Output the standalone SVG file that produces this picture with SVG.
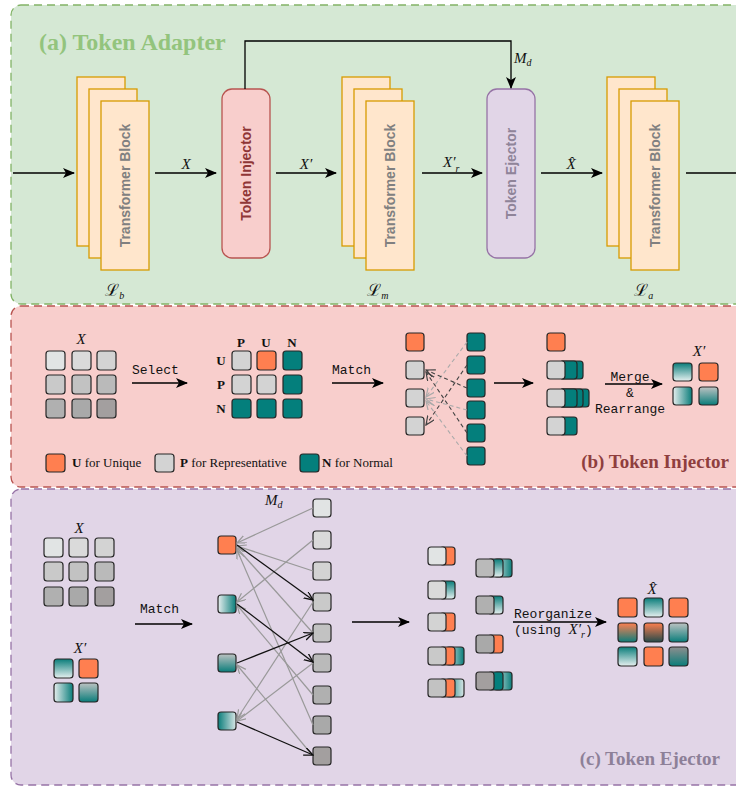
<svg xmlns="http://www.w3.org/2000/svg" width="736" height="787" viewBox="0 0 736 787">
<defs>
<style>
.math{font-family:"Liberation Serif","DejaVu Serif",serif;font-style:italic;font-size:15px;fill:#111}
.sub{font-family:"Liberation Serif","DejaVu Serif",serif;font-style:italic;font-size:10px;fill:#111}
.scr{font-family:"DejaVu Serif","Noto Sans",serif;font-size:17px;fill:#111}
.mono{font-family:"Liberation Mono","DejaVu Sans Mono",monospace;font-size:13px;fill:#111}
.leg{font-family:"Liberation Serif",serif;font-size:13px;fill:#111}
.hdr{font-family:"Liberation Serif",serif;font-size:13px;font-weight:bold;fill:#111}
.tb{fill:#ffe6cc;stroke:#d79b00;stroke-width:1.3}
.tbt{font-family:"Liberation Sans",Arial,sans-serif;font-size:14px;font-weight:bold;fill:#808080}
.t{stroke:#262626;stroke-width:1.2}
.or{fill:#ff7f50}
.te{fill:#047f7c}
.g0{fill:#e1e4e4}.g1{fill:#dadada}.g2{fill:#d3d3d3}.g3{fill:#c9c9c9}.g4{fill:#c2c2c2}.g5{fill:#bababa}.g6{fill:#b0b0b0}.g7{fill:#a9a9a9}.g8{fill:#a39f9f}
.ln{stroke:#000;stroke-width:1.3;fill:none}
.dd{stroke:#444;stroke-width:1.1;stroke-dasharray:4 3;fill:none}
.dl{stroke:#aaa;stroke-width:1.1;stroke-dasharray:4 3;fill:none}
.gl{stroke:#999;stroke-width:1.2;fill:none}
.bl{stroke:#111;stroke-width:1.3;fill:none}
</style>
<marker id="ar" markerUnits="userSpaceOnUse" markerWidth="12" markerHeight="10" refX="11" refY="5" orient="auto"><path d="M0,0 L12,5 L0,10 L3,5 z" fill="#000"/></marker>
<marker id="oG" markerUnits="userSpaceOnUse" markerWidth="10" markerHeight="10" refX="9" refY="4" orient="auto"><path d="M0,0 L9,4 L0,8" fill="none" stroke="#999" stroke-width="1.2"/></marker>
<marker id="oB" markerUnits="userSpaceOnUse" markerWidth="10" markerHeight="10" refX="9" refY="4" orient="auto"><path d="M0,0 L9,4 L0,8" fill="none" stroke="#111" stroke-width="1.3"/></marker>
<marker id="oD" markerUnits="userSpaceOnUse" markerWidth="10" markerHeight="10" refX="9" refY="4" orient="auto"><path d="M0,0 L9,4 L0,8" fill="none" stroke="#444" stroke-width="1.2"/></marker>
<marker id="oL" markerUnits="userSpaceOnUse" markerWidth="10" markerHeight="10" refX="9" refY="4" orient="auto"><path d="M0,0 L9,4 L0,8" fill="none" stroke="#aaa" stroke-width="1.2"/></marker>
<linearGradient id="gT" x1="0" y1="0" x2="0" y2="1"><stop offset="0" stop-color="#0a7d7a"/><stop offset="1" stop-color="#e6f0f0"/></linearGradient>
<linearGradient id="gH" x1="0" y1="0" x2="1" y2="0"><stop offset="0" stop-color="#e6eeee"/><stop offset="1" stop-color="#0a7d7a"/></linearGradient>
<linearGradient id="gHr" x1="0" y1="0" x2="1" y2="0"><stop offset="0" stop-color="#0a7d7a"/><stop offset="1" stop-color="#d8e6e6"/></linearGradient>
<linearGradient id="gG" x1="0" y1="0" x2="0" y2="1"><stop offset="0" stop-color="#bcc2c2"/><stop offset="1" stop-color="#0a7d7a"/></linearGradient>
<linearGradient id="gOT" x1="0" y1="0" x2="0" y2="1"><stop offset="0" stop-color="#ff7f50"/><stop offset="1" stop-color="#0d7d7a"/></linearGradient>
<linearGradient id="gOD" x1="0" y1="0" x2="0" y2="1"><stop offset="0" stop-color="#ff7f50"/><stop offset="1" stop-color="#254a4a"/></linearGradient>
<linearGradient id="gDG" x1="0" y1="0" x2="0" y2="1"><stop offset="0" stop-color="#8e8e8e"/><stop offset="1" stop-color="#0a7d7a"/></linearGradient>
</defs>

<!-- Panels -->
<g id="panel-a">
<rect x="11" y="5" width="745" height="299" rx="10" fill="#d5e8d4" stroke="#82b366" stroke-width="1.3" stroke-dasharray="8 5"/>
<text x="39" y="50" font-family="Liberation Serif,serif" font-size="24" font-weight="bold" fill="#93c47d">(a) Token Adapter</text>
</g>
<g id="panel-b">
<rect x="11" y="306" width="745" height="181" rx="10" fill="#f8cecc" stroke="#b85450" stroke-width="1.3" stroke-dasharray="8 5"/>
<text x="729" y="468" text-anchor="end" font-family="Liberation Serif,serif" font-size="19" font-weight="bold" fill="#8f3e3e">(b) Token Injector</text>
</g>
<g id="panel-c">
<rect x="11" y="489" width="745" height="296" rx="10" fill="#e1d5e7" stroke="#9673a6" stroke-width="1.3" stroke-dasharray="8 5"/>
<text x="720" y="765" text-anchor="end" font-family="Liberation Serif,serif" font-size="19" font-weight="bold" fill="#8d8098">(c) Token Ejector</text>
</g>

<!-- Top row nodes -->
<g id="tb-b">
<rect class="tb" x="77" y="77" width="48" height="169"/>
<rect class="tb" x="89" y="89" width="48" height="169"/>
<rect class="tb" x="101" y="101" width="48" height="169"/>
<text class="tbt" transform="translate(125,185.5) rotate(-90)" text-anchor="middle" dominant-baseline="central">Transformer Block</text>
<text class="scr" x="105" y="296">ℒ<tspan class="sub" font-size="11" dy="3">b</tspan></text>
</g>
<g id="token-injector">
<rect x="222" y="89" width="48" height="169" rx="10" fill="#f8cecc" stroke="#b85450" stroke-width="1.3"/>
<text transform="translate(246,173.5) rotate(-90)" text-anchor="middle" dominant-baseline="central" font-family="Liberation Sans,Arial,sans-serif" font-size="14" font-weight="bold" fill="#8f3636">Token Injector</text>
</g>
<g id="tb-m">
<rect class="tb" x="342" y="77" width="48" height="169"/>
<rect class="tb" x="354" y="89" width="48" height="169"/>
<rect class="tb" x="366" y="101" width="48" height="169"/>
<text class="tbt" transform="translate(390,185.5) rotate(-90)" text-anchor="middle" dominant-baseline="central">Transformer Block</text>
<text class="scr" x="367" y="296">ℒ<tspan class="sub" font-size="11" dy="3">m</tspan></text>
</g>
<g id="token-ejector">
<rect x="487" y="89" width="48" height="169" rx="10" fill="#e1d5e7" stroke="#9673a6" stroke-width="1.3"/>
<text transform="translate(511,173.5) rotate(-90)" text-anchor="middle" dominant-baseline="central" font-family="Liberation Sans,Arial,sans-serif" font-size="14" font-weight="bold" fill="#8f8499">Token Ejector</text>
</g>
<g id="tb-a">
<rect class="tb" x="607" y="77" width="48" height="169"/>
<rect class="tb" x="619" y="89" width="48" height="169"/>
<rect class="tb" x="631" y="101" width="48" height="169"/>
<text class="tbt" transform="translate(655,185.5) rotate(-90)" text-anchor="middle" dominant-baseline="central">Transformer Block</text>
<text class="scr" x="634" y="296">ℒ<tspan class="sub" font-size="11" dy="3">a</tspan></text>
</g>

<!-- Top connectors -->
<g id="connectors-top">
<line class="ln" x1="13" y1="173" x2="74" y2="173" marker-end="url(#ar)"/>
<line class="ln" x1="155" y1="173" x2="216" y2="173" marker-end="url(#ar)"/>
<line class="ln" x1="276" y1="173" x2="336" y2="173" marker-end="url(#ar)"/>
<line class="ln" x1="422" y1="173" x2="482" y2="173" marker-end="url(#ar)"/>
<line class="ln" x1="541" y1="173" x2="602" y2="173" marker-end="url(#ar)"/>
<line class="ln" x1="686" y1="173" x2="748" y2="173" marker-end="url(#ar)"/>
<path class="ln" d="M245,89 V41 H511 V88" marker-end="url(#ar)"/>
<text class="math" x="186" y="169" text-anchor="middle">X</text>
<text class="math" x="306" y="169" text-anchor="middle">X′</text>
<text class="math" x="443" y="167">X′<tspan class="sub" dy="5">r</tspan></text>
<text class="math" x="571" y="169" text-anchor="middle">X̂</text>
<text class="math" x="514" y="63">M<tspan class="sub" dy="3">d</tspan></text>
</g>

<!-- (b) Token Injector detail -->
<g id="inj-x-grid">
<text class="math" x="81" y="344" text-anchor="middle">X</text>
<rect class="t g0" x="46" y="351" width="19" height="19" rx="3"/>
<rect class="t g1" x="72" y="351" width="19" height="19" rx="3"/>
<rect class="t g2" x="97" y="351" width="19" height="19" rx="3"/>
<rect class="t g3" x="46" y="375" width="19" height="19" rx="3"/>
<rect class="t g4" x="72" y="375" width="19" height="19" rx="3"/>
<rect class="t g5" x="97" y="375" width="19" height="19" rx="3"/>
<rect class="t g6" x="46" y="399" width="19" height="19" rx="3"/>
<rect class="t g7" x="72" y="399" width="19" height="19" rx="3"/>
<rect class="t g8" x="97" y="399" width="19" height="19" rx="3"/>
</g>
<g id="inj-select-grid">
<text class="hdr" x="241" y="347" text-anchor="middle">P</text>
<text class="hdr" x="266" y="347" text-anchor="middle">U</text>
<text class="hdr" x="292" y="347" text-anchor="middle">N</text>
<text class="hdr" x="221" y="365" text-anchor="middle">U</text>
<text class="hdr" x="221" y="389" text-anchor="middle">P</text>
<text class="hdr" x="221" y="413" text-anchor="middle">N</text>
<rect class="t g2" x="232" y="351" width="19" height="19" rx="3"/>
<rect class="t or" x="257" y="351" width="19" height="19" rx="3"/>
<rect class="t te" x="283" y="351" width="19" height="19" rx="3"/>
<rect class="t g2" x="232" y="375" width="19" height="19" rx="3"/>
<rect class="t g2" x="257" y="375" width="19" height="19" rx="3"/>
<rect class="t te" x="283" y="375" width="19" height="19" rx="3"/>
<rect class="t te" x="232" y="399" width="19" height="19" rx="3"/>
<rect class="t te" x="257" y="399" width="19" height="19" rx="3"/>
<rect class="t te" x="283" y="399" width="19" height="19" rx="3"/>
</g>
<g id="inj-match-left">
<rect class="t or" x="406" y="333" width="18" height="18" rx="3"/>
<rect class="t g2" x="406" y="361" width="18" height="18" rx="3"/>
<rect class="t g2" x="406" y="389" width="18" height="18" rx="3"/>
<rect class="t g2" x="406" y="417" width="18" height="18" rx="3"/>
</g>
<g id="inj-match-right">
<rect class="t te" x="467" y="333" width="18" height="18" rx="3"/>
<rect class="t te" x="467" y="356" width="18" height="18" rx="3"/>
<rect class="t te" x="467" y="379" width="18" height="18" rx="3"/>
<rect class="t te" x="467" y="401" width="18" height="18" rx="3"/>
<rect class="t te" x="467" y="424" width="18" height="18" rx="3"/>
<rect class="t te" x="467" y="447" width="18" height="18" rx="3"/>
</g>
<g id="inj-merged">
<rect class="t or" x="547" y="333" width="18" height="18" rx="3"/>
<rect class="t te" x="560" y="361" width="23" height="18" rx="3"/>
<rect class="t te" x="560" y="361" width="17" height="18" rx="3"/>
<rect class="t g2" x="547" y="361" width="18" height="18" rx="3"/>
<rect class="t te" x="560" y="389" width="29" height="18" rx="3"/>
<rect class="t te" x="560" y="389" width="23" height="18" rx="3"/>
<rect class="t te" x="560" y="389" width="17" height="18" rx="3"/>
<rect class="t g2" x="547" y="389" width="18" height="18" rx="3"/>
<rect class="t te" x="560" y="417" width="17" height="18" rx="3"/>
<rect class="t g2" x="547" y="417" width="18" height="18" rx="3"/>
</g>
<g id="inj-xprime">
<text class="math" x="699" y="356" text-anchor="middle">X′</text>
<rect class="t" fill="url(#gT)" x="673" y="363" width="19" height="18" rx="3"/>
<rect class="t or" x="699" y="363" width="19" height="18" rx="3"/>
<rect class="t" fill="url(#gH)" x="673" y="387" width="19" height="18" rx="3"/>
<rect class="t" fill="url(#gG)" x="699" y="387" width="19" height="18" rx="3"/>
</g>
<g id="inj-legend">
<rect class="t or" x="46" y="454" width="19" height="18" rx="3"/>
<text class="leg" x="72" y="467"><tspan font-weight="bold">U</tspan> for Unique</text>
<rect class="t g2" x="155" y="454" width="19" height="18" rx="3"/>
<text class="leg" x="180" y="467"><tspan font-weight="bold">P</tspan> for Representative</text>
<rect class="t te" x="300" y="454" width="19" height="18" rx="3"/>
<text class="leg" x="322" y="467"><tspan font-weight="bold">N</tspan> for Normal</text>
</g>
<g id="connectors-inj">
<line class="ln" x1="132" y1="383" x2="187" y2="383" marker-end="url(#ar)"/>
<text class="mono" x="132" y="374">Select</text>
<line class="ln" x1="332" y1="383" x2="383" y2="383" marker-end="url(#ar)"/>
<text class="mono" x="332" y="374">Match</text>
<line class="dl" x1="467" y1="342" x2="426" y2="397" marker-end="url(#oL)"/>
<line class="dl" x1="467" y1="410" x2="426" y2="399" marker-end="url(#oL)"/>
<line class="dl" x1="467" y1="456" x2="426" y2="401" marker-end="url(#oL)"/>
<line class="dd" x1="467" y1="388" x2="426" y2="370" marker-end="url(#oD)"/>
<line class="dd" x1="467" y1="433" x2="426" y2="372" marker-end="url(#oD)"/>
<line class="dd" x1="467" y1="365" x2="426" y2="425" marker-end="url(#oD)"/>
<line class="ln" x1="494" y1="383" x2="533" y2="383" marker-end="url(#ar)"/>
<line class="ln" x1="605" y1="384" x2="662" y2="384" marker-end="url(#ar)"/>
<text class="mono" x="630" y="381" text-anchor="middle">Merge</text>
<text class="mono" x="630" y="397" text-anchor="middle">&amp;</text>
<text class="mono" x="630" y="413" text-anchor="middle">Rearrange</text>
</g>

<!-- (c) Token Ejector detail -->
<g id="ej-x-grid">
<text class="math" x="79" y="533" text-anchor="middle">X</text>
<rect class="t g0" x="44" y="538" width="19" height="19" rx="3"/>
<rect class="t g1" x="69" y="538" width="19" height="19" rx="3"/>
<rect class="t g2" x="95" y="538" width="19" height="19" rx="3"/>
<rect class="t g3" x="44" y="562" width="19" height="19" rx="3"/>
<rect class="t g4" x="69" y="562" width="19" height="19" rx="3"/>
<rect class="t g5" x="95" y="562" width="19" height="19" rx="3"/>
<rect class="t g6" x="44" y="587" width="19" height="19" rx="3"/>
<rect class="t g7" x="69" y="587" width="19" height="19" rx="3"/>
<rect class="t g8" x="95" y="587" width="19" height="19" rx="3"/>
</g>
<g id="ej-xprime-grid">
<text class="math" x="80" y="653" text-anchor="middle">X′</text>
<rect class="t" fill="url(#gT)" x="54" y="659" width="19" height="19" rx="3"/>
<rect class="t or" x="79" y="659" width="19" height="19" rx="3"/>
<rect class="t" fill="url(#gH)" x="54" y="683" width="19" height="19" rx="3"/>
<rect class="t" fill="url(#gG)" x="79" y="683" width="19" height="19" rx="3"/>
</g>
<g id="ej-left">
<rect class="t or" x="218" y="536" width="18" height="18" rx="3"/>
<rect class="t" fill="url(#gH)" x="218" y="595" width="18" height="18" rx="3"/>
<rect class="t" fill="url(#gG)" x="218" y="654" width="18" height="18" rx="3"/>
<rect class="t" fill="url(#gHr)" x="218" y="712" width="18" height="18" rx="3"/>
</g>
<g id="ej-right">
<rect class="t g0" x="313" y="499" width="18" height="18" rx="3"/>
<rect class="t g1" x="313" y="531" width="18" height="18" rx="3"/>
<rect class="t g2" x="313" y="562" width="18" height="18" rx="3"/>
<rect class="t g3" x="313" y="593" width="18" height="18" rx="3"/>
<rect class="t g4" x="313" y="624" width="18" height="18" rx="3"/>
<rect class="t g5" x="313" y="654" width="18" height="18" rx="3"/>
<rect class="t g6" x="313" y="686" width="18" height="18" rx="3"/>
<rect class="t g7" x="313" y="716" width="18" height="18" rx="3"/>
<rect class="t g8" x="313" y="747" width="18" height="18" rx="3"/>
</g>
<g id="ej-stacks-a">
<rect class="t or" x="440" y="547" width="15" height="18" rx="3"/>
<rect class="t g0" x="428" y="547" width="18" height="18" rx="3"/>
<rect class="t" fill="url(#gT)" x="440" y="581" width="15" height="18" rx="3"/>
<rect class="t g1" x="428" y="581" width="18" height="18" rx="3"/>
<rect class="t or" x="440" y="613" width="15" height="18" rx="3"/>
<rect class="t g2" x="428" y="613" width="18" height="18" rx="3"/>
<rect class="t" fill="url(#gH)" x="446" y="647" width="18" height="18" rx="3"/>
<rect class="t or" x="440" y="647" width="15" height="18" rx="3"/>
<rect class="t g3" x="428" y="647" width="18" height="18" rx="3"/>
<rect class="t" fill="url(#gHr)" x="446" y="679" width="18" height="18" rx="3"/>
<rect class="t or" x="440" y="679" width="15" height="18" rx="3"/>
<rect class="t g4" x="428" y="679" width="18" height="18" rx="3"/>
</g>
<g id="ej-stacks-b">
<rect class="t" fill="url(#gH)" x="494" y="559" width="18" height="18" rx="3"/>
<rect class="t" fill="url(#gT)" x="488" y="559" width="15" height="18" rx="3"/>
<rect class="t g5" x="476" y="559" width="18" height="18" rx="3"/>
<rect class="t" fill="url(#gT)" x="488" y="596" width="15" height="18" rx="3"/>
<rect class="t g6" x="476" y="596" width="18" height="18" rx="3"/>
<rect class="t or" x="488" y="635" width="15" height="18" rx="3"/>
<rect class="t g7" x="476" y="635" width="18" height="18" rx="3"/>
<rect class="t" fill="url(#gH)" x="494" y="672" width="18" height="18" rx="3"/>
<rect class="t te" x="488" y="672" width="15" height="18" rx="3"/>
<rect class="t g8" x="476" y="672" width="18" height="18" rx="3"/>
</g>
<g id="ej-xhat">
<text class="math" x="652" y="594" text-anchor="middle">X̂</text>
<rect class="t or" x="618" y="598" width="19" height="19" rx="3"/>
<rect class="t" fill="url(#gT)" x="644" y="598" width="19" height="19" rx="3"/>
<rect class="t or" x="669" y="598" width="19" height="19" rx="3"/>
<rect class="t" fill="url(#gOT)" x="618" y="623" width="19" height="19" rx="3"/>
<rect class="t" fill="url(#gOD)" x="644" y="623" width="19" height="19" rx="3"/>
<rect class="t" fill="url(#gG)" x="669" y="623" width="19" height="19" rx="3"/>
<rect class="t" fill="url(#gT)" x="618" y="647" width="19" height="19" rx="3"/>
<rect class="t or" x="644" y="647" width="19" height="19" rx="3"/>
<rect class="t" fill="url(#gDG)" x="669" y="647" width="19" height="19" rx="3"/>
</g>
<g id="connectors-ej">
<line class="ln" x1="135" y1="624" x2="192" y2="624" marker-end="url(#ar)"/>
<text class="mono" x="140" y="613">Match</text>
<text class="math" x="265" y="505">M<tspan class="sub" dy="3">d</tspan></text>
<line class="gl" x1="313" y1="508" x2="237" y2="543" marker-end="url(#oG)"/>
<line class="gl" x1="313" y1="540" x2="237" y2="602" marker-end="url(#oG)"/>
<line class="gl" x1="313" y1="571" x2="237" y2="546" marker-end="url(#oG)"/>
<line class="gl" x1="313" y1="602" x2="237" y2="719" marker-end="url(#oG)"/>
<line class="gl" x1="313" y1="633" x2="237" y2="548" marker-end="url(#oG)"/>
<line class="gl" x1="313" y1="663" x2="237" y2="721" marker-end="url(#oG)"/>
<line class="gl" x1="313" y1="695" x2="237" y2="605" marker-end="url(#oG)"/>
<line class="gl" x1="313" y1="725" x2="237" y2="550" marker-end="url(#oG)"/>
<line class="gl" x1="313" y1="756" x2="237" y2="665" marker-end="url(#oG)"/>
<line class="bl" x1="237" y1="545" x2="313" y2="600" marker-end="url(#oB)"/>
<line class="bl" x1="237" y1="604" x2="313" y2="662" marker-end="url(#oB)"/>
<line class="bl" x1="237" y1="663" x2="313" y2="633" marker-end="url(#oB)"/>
<line class="bl" x1="237" y1="722" x2="313" y2="755" marker-end="url(#oB)"/>
<line class="ln" x1="352" y1="622" x2="409" y2="622" marker-end="url(#ar)"/>
<line class="ln" x1="513" y1="622" x2="606" y2="622" marker-end="url(#ar)"/>
<text class="mono" x="514" y="618">Reorganize</text>
<text class="mono" x="514" y="634">(using <tspan class="math" font-size="15">X′</tspan><tspan class="sub" dy="4">r</tspan><tspan dy="-4">)</tspan></text>
</g>
</svg>
